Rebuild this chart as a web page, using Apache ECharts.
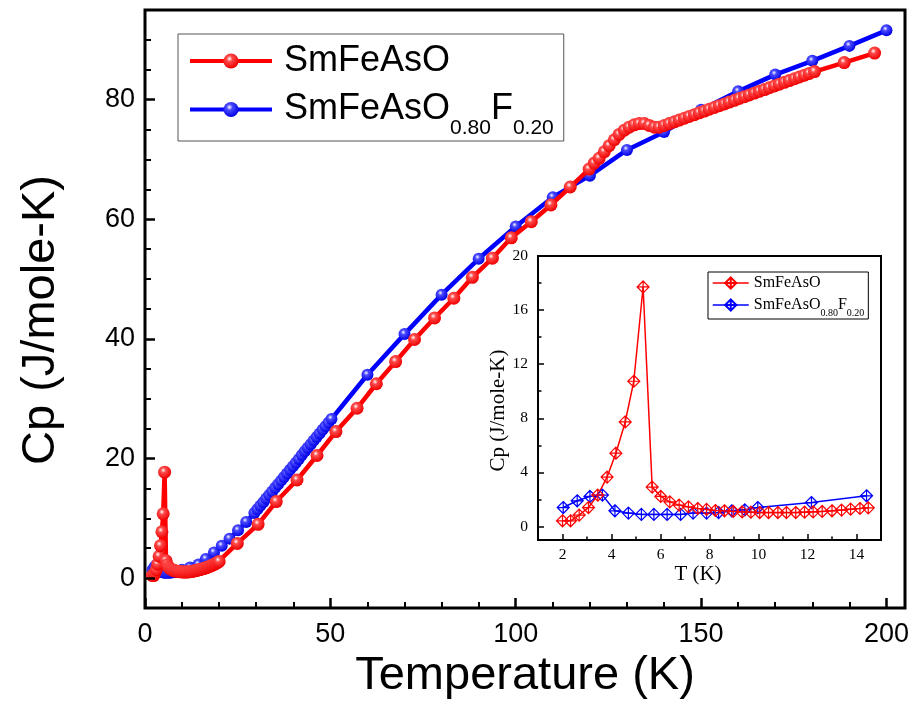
<!DOCTYPE html>
<html>
<head>
<meta charset="utf-8">
<script src="https://cdn.jsdelivr.net/npm/echarts@6/dist/echarts.min.js"></script>
<style>html,body{margin:0;padding:0;background:#fff}#c{width:912px;height:711px}</style>
</head>
<body>
<div id="c"></div>
<script>
// ---- Data ----
// SmFeAsO, low temperature part (shown in inset and main)
const redLowT  = [2.0,2.33,2.68,3.06,3.44,3.82,4.18,4.56,4.91,5.29,5.66,6.01,6.38,6.76,7.14,7.52,7.88,8.24,8.61,8.97,9.33,9.69,10.05,10.41,10.79,11.14,11.52,11.88,12.23,12.6,13.0,13.39,13.76,14.14,14.48];
const redLowCp = [0.42,0.42,0.84,1.40,2.32,3.65,5.42,7.73,10.74,17.71,2.91,2.22,1.82,1.58,1.45,1.33,1.26,1.18,1.16,1.11,1.08,1.06,1.03,1.03,1.03,1.03,1.03,1.06,1.08,1.11,1.16,1.21,1.28,1.33,1.38];
// SmFeAsO, rest of main chart
const redHighT  = [14.85,15.2,15.6,15.95,16.3,16.7,17.05,17.4,17.8,18.15,18.5,18.9,19.25,19.6,20.0,
  24.9,30.5,35.4,41.0,46.4,51.5,57.2,62.4,67.6,72.7,78.1,83.3,88.3,93.7,98.8,104.2,109.5,114.7,119.8,
  121.2,122.5,123.9,125.2,126.6,127.9,129.3,130.6,132.0,133.3,134.7,136.0,137.4,138.7,140.1,141.4,142.8,144.1,145.5,146.8,
  148.2,149.5,150.9,152.2,153.6,154.9,156.3,157.6,159.0,160.3,161.7,163.0,164.4,165.7,167.1,168.4,169.8,171.1,172.5,173.8,
  175.2,176.5,177.9,179.2,180.6,188.6,196.8];
const redHighCp = [1.44,1.5,1.56,1.63,1.7,1.78,1.86,1.95,2.05,2.15,2.26,2.38,2.5,2.63,2.78,
  5.8,9.0,12.8,16.4,20.5,24.5,28.4,32.5,36.2,39.9,43.5,46.8,50.3,53.5,56.9,59.6,62.4,65.4,68.4,
  69.4,70.2,71.3,72.3,73.3,74.2,74.9,75.4,75.8,76.0,76.0,75.7,75.4,75.4,75.7,76.0,76.3,76.6,76.9,77.2,
  77.5,77.8,78.1,78.4,78.7,79.0,79.3,79.6,79.9,80.2,80.5,80.8,81.1,81.4,81.7,82.0,82.3,82.6,82.9,83.2,
  83.5,83.8,84.1,84.4,84.7,86.2,87.8];
// SmFeAsO0.80F0.20, low temperature part
const blueLowT  = [2.03,2.6,3.12,3.63,4.14,4.69,5.22,5.73,6.27,6.82,7.33,7.88,8.37,8.91,9.44,9.97,12.16,14.41];
const blueLowCp = [1.40,1.90,2.22,2.32,1.16,0.99,0.89,0.89,0.89,0.89,0.99,0.99,1.03,1.16,1.23,1.40,1.77,2.27];
// SmFeAsO0.80F0.20, rest of main chart
const blueHighT  = [16.4,18.6,20.7,22.8,25.1,27.3,29.5,
  30.3,31.1,31.9,32.7,33.5,34.3,35.1,35.9,36.7,37.5,38.3,39.1,39.9,40.7,41.5,42.3,43.1,43.9,44.7,45.5,46.3,47.1,47.9,48.7,49.5,50.3,
  60,70,80,90,100,110,120,130,140,150,160,170,180,190,200];
const blueHighCp = [3.2,4.3,5.4,6.6,8.0,9.4,10.9,
  11.5,12.1,12.7,13.3,13.9,14.5,15.1,15.7,16.3,16.9,17.5,18.1,18.7,19.3,19.9,20.6,21.2,21.8,22.4,23.0,23.6,24.2,24.8,25.4,26.0,26.6,
  34.0,40.8,47.4,53.4,58.8,63.7,67.3,71.6,74.6,78.3,81.4,84.2,86.5,89.0,91.6];

// tick labels
const mainXTicks = [0,50,100,150,200];
const mainXMinor = [10,20,30,40,60,70,80,90,110,120,130,140,160,170,180,190];
const mainYTicks = [0,20,40,60,80];
const mainYMinor = [5,10,15,25,30,35,45,50,55,65,70,75,85,90];
const insetXTicks = [2,4,6,8,10,12,14];
const insetXMinor = [3,5,7,9,11,13];
const insetYTicks = [0,4,8,12,16,20];
const insetYMinor = [2,6,10,14,18];

const NAME_R = 'SmFeAsO';
const NAME_B = 'SmFeAsO0.80F0.20';
const NAME_RI = 'inset SmFeAsO';
const NAME_BI = 'inset SmFeAsO0.80F0.20';

function pairs(t, c){ return t.map((v,i)=>[v, c[i]]); }
const redMain  = pairs(redLowT.concat(redHighT), redLowCp.concat(redHighCp));
const blueMain = pairs(blueLowT.concat(blueHighT), blueLowCp.concat(blueHighCp));
const redInset  = pairs(redLowT, redLowCp);
const blueInset = pairs(blueLowT, blueLowCp);

function ball(c, mid){
  return {type:'radial', x:0.4, y:0.35, r:0.65, colorStops:[
    {offset:0, color:'#ffffff'},{offset:0.3, color:mid},{offset:1, color:c}]};
}
const diamond = 'path://M0,-1L1,0L0,1L-1,0Z M0,-1L0,1 M-1,0L1,0';
const SANS = 'Liberation Sans';
const SERIF = 'Liberation Serif';

function axisBase(extra){ return Object.assign({type:'value', splitLine:{show:false}, axisLine:{show:false, onZero:false}, offset:0, z:8}, extra); }

const chart = echarts.init(document.getElementById('c'));
chart.setOption({
  animation:false,
  backgroundColor:'#fff',
  grid:[
    {left:145, top:10, width:760, height:598, show:true, borderColor:'#000', borderWidth:3, backgroundColor:'rgba(0,0,0,0)'},
    {left:538, top:256, width:343, height:284, show:true, borderColor:'#000', borderWidth:2, backgroundColor:'#fff', z:5}
  ],
  xAxis:[
    axisBase({gridIndex:0, position:'bottom', min:0, max:205, name:'Temperature (K)', nameLocation:'middle', nameGap:35,
      nameTextStyle:{fontFamily:SANS, fontSize:47, color:'#000'},
      axisTick:{inside:true, length:10, lineStyle:{color:'#000', width:2.5}, customValues:mainXTicks},
      axisLabel:{fontFamily:SANS, fontSize:27, color:'#000', margin:13, customValues:mainXTicks}}),
    axisBase({gridIndex:0, position:'bottom', min:0, max:205,
      axisTick:{inside:true, length:6, lineStyle:{color:'#000', width:2}, customValues:mainXMinor},
      axisLabel:{show:false}}),
    axisBase({gridIndex:1, position:'bottom', min:1, max:15, name:'T (K)', nameLocation:'middle', nameGap:22,
      nameTextStyle:{fontFamily:SERIF, fontSize:21, color:'#000', padding:[0,23,0,0]},
      axisTick:{inside:true, length:6, lineStyle:{color:'#000', width:1.5}, customValues:insetXTicks},
      axisLabel:{fontFamily:SERIF, fontSize:15.5, color:'#000', margin:7, customValues:insetXTicks}}),
    axisBase({gridIndex:1, position:'bottom', min:1, max:15,
      axisTick:{inside:true, length:3.5, lineStyle:{color:'#000', width:1.5}, customValues:insetXMinor},
      axisLabel:{show:false}})
  ],
  yAxis:[
    axisBase({gridIndex:0, position:'left', min:-5, max:95, name:'Cp (J/mole-K)', nameLocation:'middle', nameGap:80,
      nameTextStyle:{fontFamily:SANS, fontSize:47, color:'#000', padding:[0,22,0,0]},
      axisTick:{inside:true, length:10, lineStyle:{color:'#000', width:2.5}, customValues:mainYTicks},
      axisLabel:{fontFamily:SANS, fontSize:27, color:'#000', margin:10, customValues:mainYTicks}}),
    axisBase({gridIndex:0, position:'left', min:-5, max:95,
      axisTick:{inside:true, length:6, lineStyle:{color:'#000', width:2}, customValues:mainYMinor},
      axisLabel:{show:false}}),
    axisBase({gridIndex:1, position:'left', min:-1, max:20, name:'Cp (J/mole-K)', nameLocation:'middle', nameGap:29,
      nameTextStyle:{fontFamily:SERIF, fontSize:21, color:'#000', padding:[0,25,0,0]},
      axisTick:{inside:true, length:6, lineStyle:{color:'#000', width:1.5}, customValues:insetYTicks},
      axisLabel:{fontFamily:SERIF, fontSize:15.5, color:'#000', margin:10, customValues:insetYTicks}}),
    axisBase({gridIndex:1, position:'left', min:-1, max:20,
      axisTick:{inside:true, length:3.5, lineStyle:{color:'#000', width:1.5}, customValues:insetYMinor},
      axisLabel:{show:false}})
  ],
  legend:[
    {data:[NAME_R, NAME_B], orient:'vertical', left:178, top:34, padding:[9,10,2,10], itemGap:1,
      itemWidth:82, itemHeight:19, borderColor:'#555', borderWidth:1, selectedMode:false,
      lineStyle:{width:4},
      formatter:function(n){ return n===NAME_R ? '{a1|SmFeAsO}' : '{a2|SmFeAsO}{s|0.80}{a2|F}{s|0.20}'; },
      textStyle:{fontFamily:SANS, color:'#000', padding:[0,0,0,7], rich:{
        a1:{fontFamily:SANS, fontSize:36, lineHeight:28, color:'#000'},
        a2:{fontFamily:SANS, fontSize:36, lineHeight:60, color:'#000'},
        s:{fontFamily:SANS, fontSize:21, lineHeight:21, padding:[38,0,0,0], color:'#000'}}}},
    {data:[NAME_RI, NAME_BI], orient:'vertical', left:708, top:272, padding:[3,4,1,4], itemGap:1,
      itemWidth:36, itemHeight:14, borderColor:'#000', borderWidth:1, selectedMode:false, z:7,
      lineStyle:{width:1.5},
      formatter:function(n){ return n===NAME_RI ? '{b1|SmFeAsO}' : '{b2|SmFeAsO}{t|0.80}{b2|F}{t|0.20}'; },
      textStyle:{fontFamily:SERIF, color:'#000', rich:{
        b1:{fontFamily:SERIF, fontSize:16, lineHeight:16, color:'#000'},
        b2:{fontFamily:SERIF, fontSize:16, lineHeight:26, color:'#000'},
        t:{fontFamily:SERIF, fontSize:10, lineHeight:10, padding:[16,0,0,0], color:'#000'}}}}
  ],
  series:[
    {name:NAME_B, type:'line', xAxisIndex:0, yAxisIndex:0, data:blueMain, symbol:'circle', symbolSize:12,
      lineStyle:{color:'#0000ff', width:4.5}, itemStyle:{color:ball('#0000e6','#4a4aff')}, emphasis:{disabled:true}, z:2},
    {name:NAME_R, type:'line', xAxisIndex:0, yAxisIndex:0, data:redMain, symbol:'circle', symbolSize:13,
      lineStyle:{color:'#ff0000', width:4.5}, itemStyle:{color:ball('#ee0000','#ff4a4a')}, emphasis:{disabled:true}, z:3},
    {name:NAME_BI, type:'line', xAxisIndex:2, yAxisIndex:2, data:blueInset, symbol:diamond, symbolSize:12,
      lineStyle:{color:'#0000ff', width:1.5}, itemStyle:{color:'rgba(255,255,255,0)', borderColor:'#0000ff', borderWidth:1.2},
      emphasis:{disabled:true}, z:6},
    {name:NAME_RI, type:'line', xAxisIndex:2, yAxisIndex:2, data:redInset, symbol:diamond, symbolSize:12,
      lineStyle:{color:'#ff0000', width:1.5}, itemStyle:{color:'rgba(255,255,255,0)', borderColor:'#ff0000', borderWidth:1.2},
      emphasis:{disabled:true}, z:6}
  ]
});
</script>
</body>
</html>
